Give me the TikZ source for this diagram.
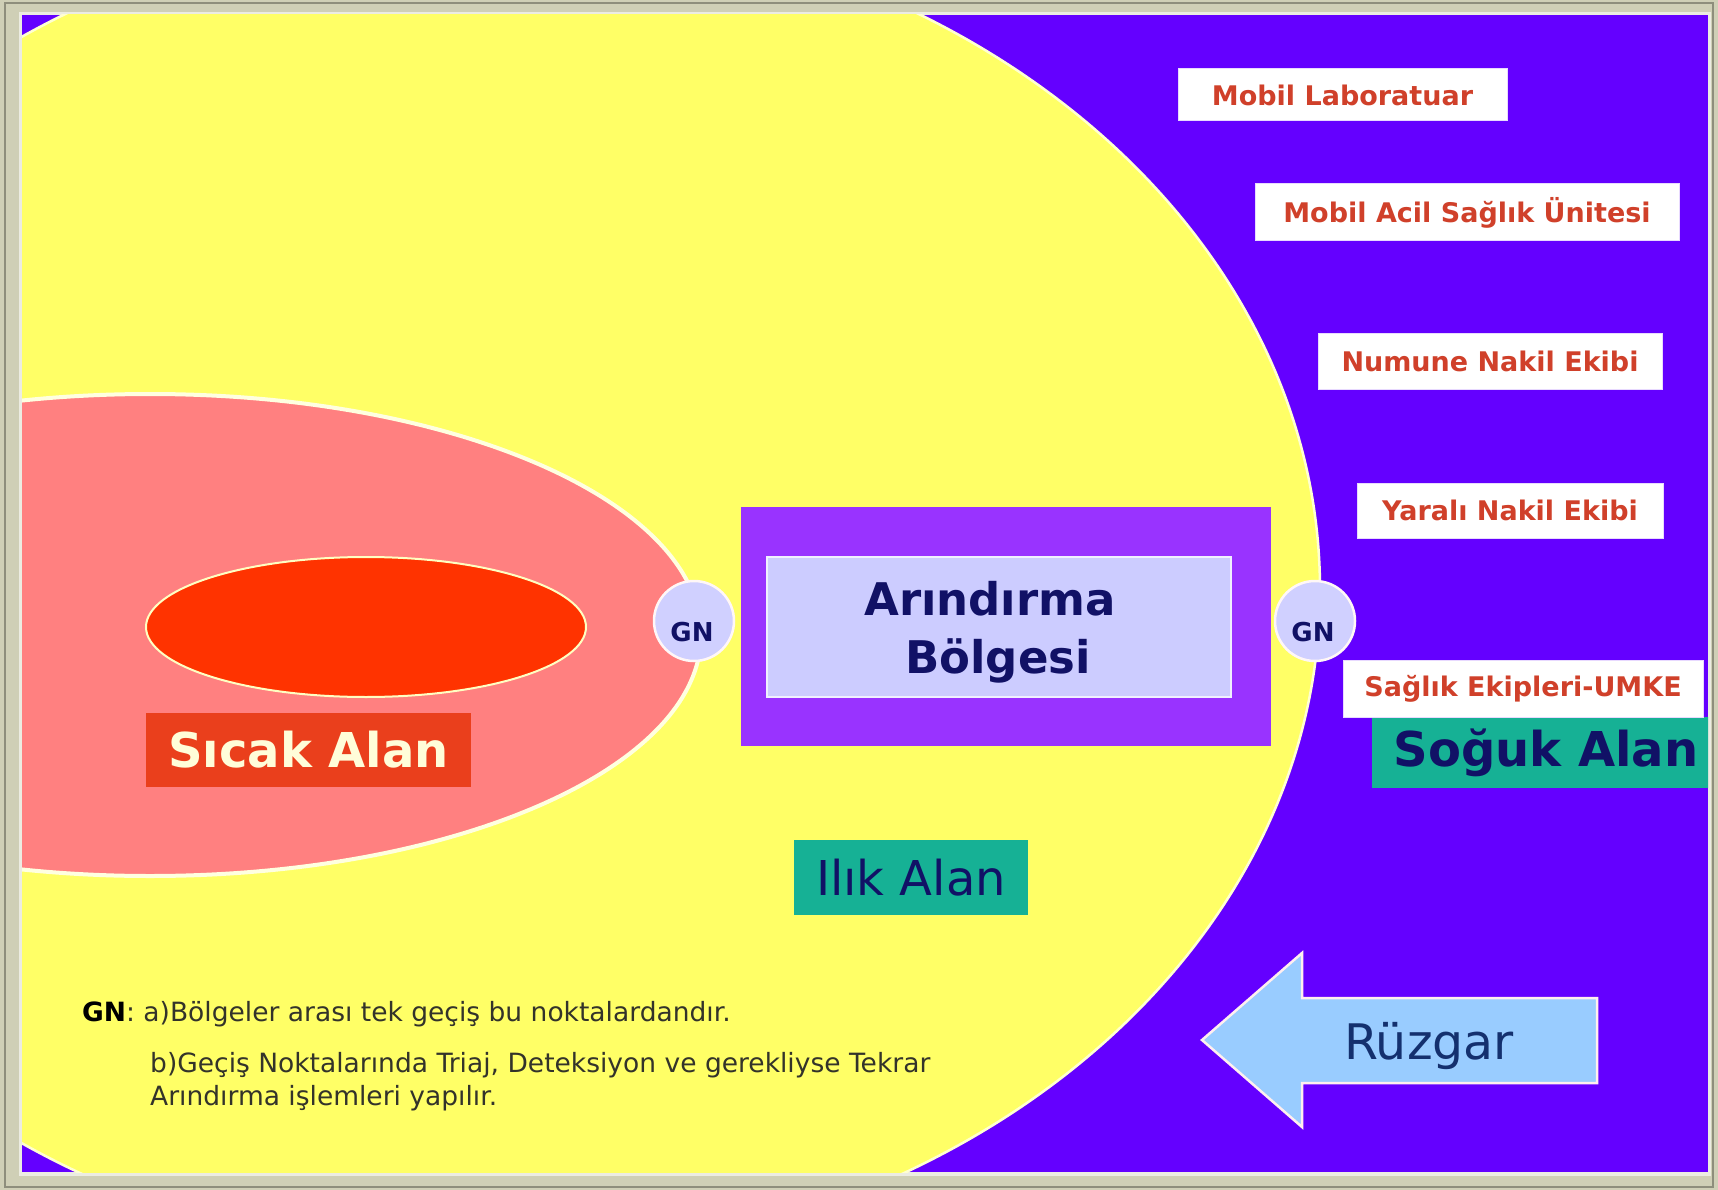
\documentclass[tikz,border=0pt]{standalone}
\usepackage{fontspec}
\setmainfont{DejaVu Sans}
\definecolor{frameC}{HTML}{CFCFB6}
\definecolor{frameLine}{HTML}{8E8E7C}
\definecolor{purpleC}{HTML}{6400FF}
\definecolor{yellowC}{HTML}{FFFF66}
\definecolor{pinkC}{HTML}{FF8080}
\definecolor{redC}{HTML}{FF3300}
\definecolor{hotbox}{HTML}{EA3F1C}
\definecolor{violetC}{HTML}{9933FF}
\definecolor{lavC}{HTML}{CCCCFF}
\definecolor{tealC}{HTML}{16B195}
\definecolor{navyC}{HTML}{111166}
\definecolor{labRed}{HTML}{D0402A}
\definecolor{windC}{HTML}{99CCFF}
\definecolor{windTxt}{HTML}{14306E}
\definecolor{noteC}{HTML}{33332A}
\tikzset{
  lab/.style={fill=white, draw=white!85!purpleC, line width=1pt, inner sep=0pt,
    text=labRed, font=\bfseries\fontsize{27pt}{31pt}\selectfont},
  gnc/.style={circle, fill=lavC!92!white, draw=white!88!pink, line width=2.5pt,
    minimum size=80pt, inner sep=0pt},
  gnt/.style={inner sep=0pt, text=navyC, font=\bfseries\fontsize{26pt}{30pt}\selectfont},
  title/.style={inner sep=0pt, font=\bfseries\fontsize{48pt}{56pt}\selectfont},
  arint/.style={inner sep=0pt, anchor=base, text=navyC, font=\bfseries\fontsize{45pt}{52pt}\selectfont},
  note/.style={inner sep=0pt, anchor=base west, text=noteC, font=\fontsize{26.5pt}{32pt}\selectfont}
}
\begin{document}
\begin{tikzpicture}[x=1pt, y=-1pt]
\useasboundingbox (0,0) rectangle (1718,1190);
\fill[frameC] (0,0) rectangle (1718,1190);
\draw[frameLine, line width=1.5pt] (5,3) rectangle (1713,1187);
\fill[white!60!frameC] (19,12) rectangle (1711,1176);
\begin{scope}
\clip (22,15) rectangle (1708,1172);
\fill[purpleC] (22,15) rectangle (1708,1172);
% warm zone
\filldraw[fill=yellowC, draw=white!70!yellowC, line width=2.5pt] (492,590) ellipse [x radius=828pt, y radius=672pt];
% hot zone
\filldraw[fill=pinkC, draw=white!80!yellowC, line width=4pt] (150,635) ellipse [x radius=551pt, y radius=241pt];
\filldraw[fill=redC, draw=white!60!yellowC, line width=2pt] (366,627) ellipse [x radius=220pt, y radius=70pt];
\node[title, fill=hotbox, text=white!85!yellow, minimum width=325pt, minimum height=74pt] (sicak) at (308.5,750) {Sıcak Alan};
% decontamination
\node[fill=violetC, minimum width=530pt, minimum height=239pt, inner sep=0pt] (arout) at (1006,626.5) {};
\node[fill=lavC, draw=white!70!lavC, line width=1.5pt, minimum width=464pt, minimum height=140pt, inner sep=0pt] (arin) at (999,627) {};
\node[arint] (arinA) at (990,615) {Arındırma};
\node[arint] (arinB) at (998,673) {Bölgesi};
\node[gnc] (gn1) at (694,621) {};
\node[gnt] (gn1t) at (692,632) {GN};
\node[gnc] (gn2) at (1315,621) {};
\node[gnt] (gn2t) at (1313,632) {GN};
\node[fill=tealC, minimum width=234pt, minimum height=75pt, inner sep=0pt, text=navyC,
  font=\fontsize{48pt}{56pt}\selectfont] (ilik) at (911,877.5) {Ilık Alan};
% cold zone
\node[title, fill=tealC, text=navyC, minimum width=348pt, minimum height=71pt] (soguk) at (1546,752.5) {Soğuk Alan};
\node[lab, minimum width=329pt, minimum height=52pt] (l1) at (1342.5,95) {Mobil Laboratuar};
\node[lab, minimum width=424pt, minimum height=57pt] (l2) at (1467,212.5) {Mobil Acil Sağlık Ünitesi};
\node[lab, minimum width=344pt, minimum height=56pt] (l3) at (1490,361) {Numune Nakil Ekibi};
\node[lab, minimum width=306pt, minimum height=55pt] (l4) at (1510,510.5) {Yaralı Nakil Ekibi};
\node[lab, minimum width=360pt, minimum height=57pt] (l5) at (1523,688.5) {Sağlık Ekipleri-UMKE};
% wind
\filldraw[fill=windC, draw=white!75!pink, line width=2.5pt]
  (1202,1040) -- (1302,953) -- (1302,998) -- (1597,998) -- (1597,1083) -- (1302,1083) -- (1302,1127) -- cycle;
\node[inner sep=0pt, text=windTxt, font=\fontsize{49pt}{56pt}\selectfont] (wind) at (1429,1046) {Rüzgar};
% note
\node[note] (na) at (82,1021) {{\color{black}\bfseries GN}: a)Bölgeler arası tek geçiş bu noktalardandır.};
\node[note] (nb) at (150,1072) {b)Geçiş Noktalarında Triaj, Deteksiyon ve gerekliyse Tekrar};
\node[note] (nc) at (150,1105) {Arındırma işlemleri yapılır.};
\end{scope}
\end{tikzpicture}
\end{document}
